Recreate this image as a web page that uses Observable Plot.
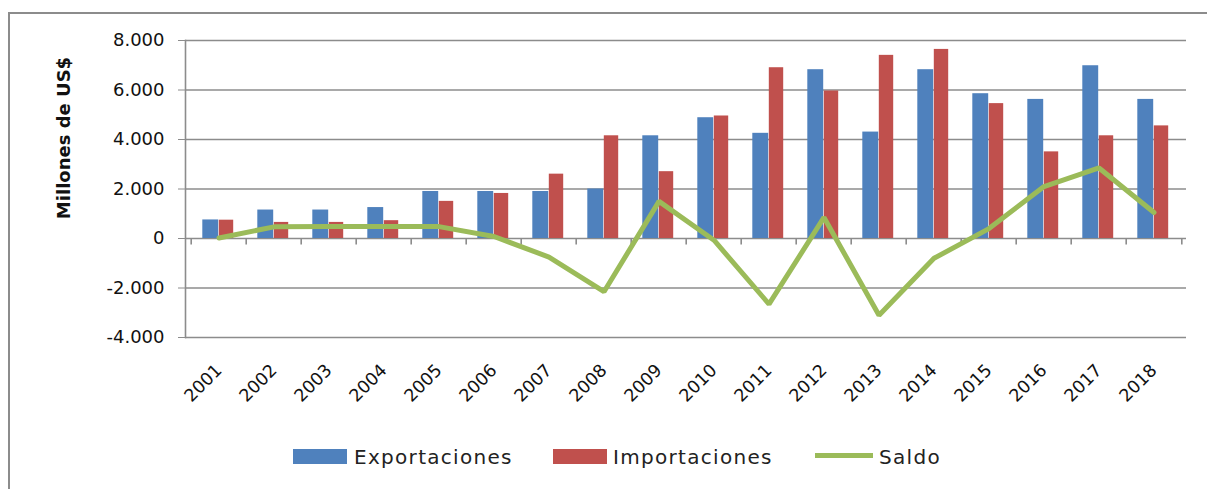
<!DOCTYPE html>
<html>
<head>
<meta charset="utf-8">
<script src="https://cdn.jsdelivr.net/npm/d3@7"></script>
<script src="https://cdn.jsdelivr.net/npm/@observablehq/plot@0.6"></script>
<style>
  html, body { margin: 0; padding: 0; background: #fff; }
  body { width: 1207px; height: 489px; overflow: hidden; position: relative; font-family: "DejaVu Sans", sans-serif; }
  #frame { position: absolute; left: 8px; top: 12px; width: 1400px; height: 700px; border-left: 2px solid #8c8c8c; border-top: 2px solid #8c8c8c; }
  #chart { position: absolute; left: 0; top: 0; }
  #legend { position: absolute; left: 0; top: 430px; width: 1207px; height: 59px; }
  .sw { position: absolute; }
  .lt { position: absolute; font-size: 20px; letter-spacing: 1.3px; color: #222; line-height: 20px; }
</style>
</head>
<body>
<div id="frame"></div>
<div id="chart"></div>
<div id="legend"></div>
<script>
const years = ["2001","2002","2003","2004","2005","2006","2007","2008","2009","2010","2011","2012","2013","2014","2015","2016","2017","2018"];
const exportaciones = [750, 1150, 1150, 1250, 1900, 1900, 1900, 2000, 4150, 4880, 4250, 6820, 4300, 6820, 5850, 5620, 6980, 5620];
const importaciones = [740, 650, 650, 720, 1500, 1820, 2600, 4150, 2700, 4950, 6900, 5960, 7400, 7640, 5450, 3500, 4150, 4550];
const saldo = [20, 470, 480, 480, 480, 80, -750, -2150, 1500, -70, -2650, 850, -3100, -800, 400, 2100, 2850, 1050];
const yTicks = [-4000, -2000, 0, 2000, 4000, 6000, 8000];
const yTickLabels = ["-4.000", "-2.000", "0", "2.000", "4.000", "6.000", "8.000"];
const seriesNames = ["Exportaciones", "Importaciones", "Saldo"];
const yTitle = "Millones de US$";

const colors = {Exportaciones: "#4f81bd", Importaciones: "#c0504d", Saldo: "#9bbb59"};

const W = 1207, H = 430;
const mL = 185, mR = 21, mT = 40, mB = H - 337;
const step = (W - mL - mR) / years.length;

const expData = years.map((y, i) => ({year: y, value: exportaciones[i]}));
const impData = years.map((y, i) => ({year: y, value: importaciones[i]}));
const salData = years.map((y, i) => ({year: y, value: saldo[i]}));

const chart = Plot.plot({
  width: W,
  height: H,
  marginLeft: mL,
  marginRight: mR,
  marginTop: mT,
  marginBottom: mB,
  style: {fontFamily: "DejaVu Sans", fontSize: "18px", background: "transparent", overflow: "visible"},
  x: {type: "band", domain: years, padding: 0, label: null},
  y: {domain: [-4000, 8000], label: null},
  marks: [
    Plot.ruleY(yTicks, {stroke: "#8c8c8c", strokeWidth: 1.6}),
    Plot.barY(expData, {x: "year", y: "value", fill: colors.Exportaciones, insetLeft: step / 2 - 16.5, insetRight: step / 2}),
    Plot.barY(impData, {x: "year", y: "value", fill: colors.Importaciones, insetLeft: step / 2, insetRight: step / 2 - 15}),
    Plot.ruleX(years, {x: d => d, y1: 0, y2: -260, dx: -step / 2, stroke: "#8c8c8c", strokeWidth: 1.6}),
    Plot.ruleX([years[years.length - 1]], {x: d => d, y1: 0, y2: -260, dx: step / 2, stroke: "#8c8c8c", strokeWidth: 1.6}),
    Plot.line(salData, {x: "year", y: "value", stroke: colors.Saldo, strokeWidth: 5, strokeLinejoin: "miter"}),
    Plot.frame({anchor: "left", stroke: "#8c8c8c", strokeWidth: 1.6}),
    Plot.axisY(yTicks, {tickFormat: d => yTickLabels[yTicks.indexOf(d)], tickSize: 7, tickPadding: 14, stroke: "#8c8c8c", fill: "#111", fontSize: 18, letterSpacing: "2px", label: null}),
    Plot.axisX(years, {anchor: "bottom", tickSize: 0, tickRotate: -45, tickPadding: 30, fontSize: 17.5, fill: "#111", letterSpacing: "1.5px", label: null}),
    Plot.text([yTitle], {frameAnchor: "left", dx: -121, dy: -51, rotate: -90, textAnchor: "middle", lineAnchor: "middle", fontWeight: "bold", fontSize: 18, fill: "#111", letterSpacing: "1px"})
  ]
});
document.getElementById("chart").appendChild(chart);

// legend
const legend = document.getElementById("legend");
const items = [
  {name: seriesNames[0], kind: "bar", sx: 293, tx: 354},
  {name: seriesNames[1], kind: "bar", sx: 553, tx: 613},
  {name: seriesNames[2], kind: "line", sx: 815, tx: 879}
];
for (const it of items) {
  const sw = document.createElement("div");
  sw.className = "sw";
  sw.style.left = it.sx + "px";
  sw.style.background = colors[it.name];
  if (it.kind === "bar") {
    sw.style.top = "19px"; sw.style.width = "54px"; sw.style.height = "15px";
  } else {
    sw.style.top = "23px"; sw.style.width = "58px"; sw.style.height = "5px";
  }
  legend.appendChild(sw);
  const t = document.createElement("div");
  t.className = "lt";
  t.style.left = it.tx + "px";
  t.style.top = "17px";
  t.textContent = it.name;
  legend.appendChild(t);
}
</script>
</body>
</html>
